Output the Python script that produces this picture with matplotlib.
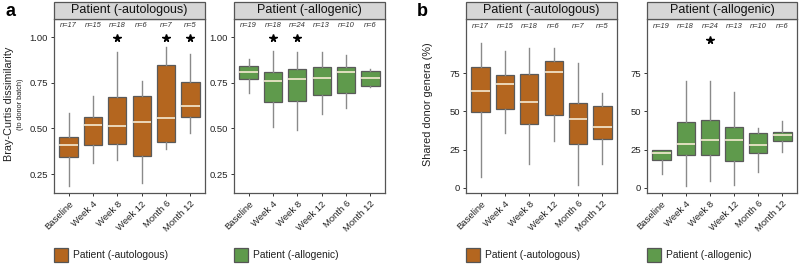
import matplotlib
matplotlib.use("Agg")
import matplotlib.pyplot as plt
from matplotlib.patches import Rectangle

plt.rcParams['font.family'] = ['Liberation Sans', 'DejaVu Sans']

categories = ["Baseline", "Week 4", "Week 8", "Week 12", "Month 6", "Month 12"]
groups = ["Patient (-autologous)", "Patient (-allogenic)"]

# Panel a: Bray-Curtis dissimilarity (to donor batch)
a_auto_whislo = [0.186, 0.309, 0.327, 0.203, 0.387, 0.476]
a_auto_q1     = [0.341, 0.410, 0.414, 0.349, 0.424, 0.560]
a_auto_med    = [0.409, 0.518, 0.513, 0.535, 0.555, 0.624]
a_auto_q3     = [0.454, 0.560, 0.670, 0.679, 0.847, 0.755]
a_auto_whishi = [0.582, 0.677, 0.920, 0.759, 0.947, 0.910]

a_allo_whislo = [0.692, 0.509, 0.491, 0.577, 0.610, 0.725]
a_allo_q1     = [0.770, 0.646, 0.651, 0.686, 0.697, 0.734]
a_allo_med    = [0.810, 0.759, 0.770, 0.777, 0.807, 0.777]
a_allo_q3     = [0.843, 0.808, 0.825, 0.837, 0.837, 0.816]
a_allo_whishi = [0.883, 0.925, 0.920, 0.920, 0.905, 0.825]

# Panel b: Shared donor genera (%)
b_auto_whislo = [7.0, 35.9, 15.3, 30.5, 1.6, 15.7]
b_auto_q1     = [49.4, 51.8, 42.0, 47.9, 28.7, 31.6]
b_auto_med    = [63.1, 67.8, 56.1, 75.5, 45.3, 39.7]
b_auto_q3     = [78.9, 73.5, 74.6, 83.3, 55.4, 53.7]
b_auto_whishi = [94.6, 89.6, 91.3, 91.3, 81.5, 62.0]

b_allo_whislo = [8.7, 1.1, 4.4, 1.6, 10.2, 23.3]
b_allo_q1     = [18.1, 21.1, 21.7, 17.4, 22.8, 30.5]
b_allo_med    = [22.8, 28.3, 30.9, 31.1, 27.8, 34.2]
b_allo_q3     = [24.6, 43.0, 44.6, 39.6, 35.5, 36.3]
b_allo_whishi = [24.6, 69.6, 69.6, 62.6, 39.1, 44.0]

n_auto = [17, 15, 18, 6, 7, 5]
n_allo = [19, 18, 24, 13, 10, 6]

a_auto_star = [False, False, True, False, True, True]
a_allo_star = [False, True, True, False, False, False]
b_auto_star = [False, False, False, False, False, False]
b_allo_star = [False, False, True, False, False, False]

c_auto = "#B4661F"
c_allo = "#5F9A4C"
edge = "#5a5a5a"
whisk = "#8a8a8a"
medc = "#F6EBD2"

W, H = 800, 264
fig = plt.figure(figsize=(8, 2.64), dpi=100)


def fx(px):
    return px / W


def fy(py):
    return 1 - py / H


def make_panel(x0, x1, title, color, lo, q1, med, q3, hi, ns, stars,
               ylim, yticks, yticklabels, ny, sy):
    ax = fig.add_axes([fx(x0), fy(193), fx(x1 - x0), (193 - 19) / H])
    stats = []
    for i in range(len(categories)):
        stats.append(dict(whislo=lo[i], q1=q1[i], med=med[i], q3=q3[i],
                          whishi=hi[i], fliers=[], label=categories[i]))
    pos = list(range(len(categories)))
    ax.bxp(stats, positions=pos, widths=0.75, patch_artist=True,
           showfliers=False, showcaps=False,
           boxprops=dict(facecolor=color, edgecolor=edge, linewidth=0.9),
           medianprops=dict(color=medc, linewidth=1.2),
           whiskerprops=dict(color=whisk, linewidth=1.0))
    ax.set_xlim(-0.6, len(categories) - 0.4)
    ax.set_ylim(*ylim)
    ax.set_yticks(yticks)
    ax.set_yticklabels(yticklabels)
    ax.set_xticks(pos)
    ax.set_xticklabels(categories, rotation=45, ha='right',
                       rotation_mode='anchor')
    ax.tick_params(axis='both', labelsize=6.8, colors='#333333',
                   length=2.5, width=0.7, pad=2, labelcolor='#222222')
    for s in ax.spines.values():
        s.set_color('#555555')
        s.set_linewidth(0.9)
    for i in pos:
        ax.text(i, ny, "n=%d" % ns[i], ha='center', va='center',
                fontsize=5.4, style='italic', color='#333333')
        if stars[i]:
            ax.plot(i, sy, marker='*', color='black', markersize=5.5,
                    linestyle='none')
    # strip
    fig.patches.append(Rectangle((fx(x0), fy(18.5)), fx(x1 - x0), 16.5 / H,
                                 transform=fig.transFigure,
                                 facecolor='#D6D6D6', edgecolor='#555555',
                                 linewidth=0.9))
    fig.text(fx((x0 + x1) / 2), fy(10.5), title, ha='center', va='center',
             fontsize=9.0, color='#111111')
    return ax


make_panel(54, 205, groups[0], c_auto, a_auto_whislo, a_auto_q1, a_auto_med,
           a_auto_q3, a_auto_whishi, n_auto, a_auto_star,
           (0.146, 1.10), [0.25, 0.5, 0.75, 1.0],
           ["0.25", "0.50", "0.75", "1.00"], 1.066, 0.995)
make_panel(234, 385, groups[1], c_allo, a_allo_whislo, a_allo_q1, a_allo_med,
           a_allo_q3, a_allo_whishi, n_allo, a_allo_star,
           (0.146, 1.10), [0.25, 0.5, 0.75, 1.0],
           ["0.25", "0.50", "0.75", "1.00"], 1.066, 0.995)
make_panel(466, 617, groups[0], c_auto, b_auto_whislo, b_auto_q1, b_auto_med,
           b_auto_q3, b_auto_whishi, n_auto, b_auto_star,
           (-3.5, 110.5), [0, 25, 50, 75], ["0", "25", "50", "75"],
           105.5, 97.0)
make_panel(647, 797, groups[1], c_allo, b_allo_whislo, b_allo_q1, b_allo_med,
           b_allo_q3, b_allo_whishi, n_allo, b_allo_star,
           (-3.5, 110.5), [0, 25, 50, 75], ["0", "25", "50", "75"],
           105.5, 97.0)

# panel letters
fig.text(fx(5), fy(12), "a", fontsize=13, fontweight='bold', ha='left',
         va='center')
fig.text(fx(417), fy(12), "b", fontsize=13, fontweight='bold', ha='left',
         va='center')

# y labels
fig.text(fx(9), fy(104), "Bray-Curtis dissimilarity", rotation=90,
         fontsize=7.8, ha='center', va='center', color='#222222')
fig.text(fx(21), fy(104), "(to donor batch)", rotation=90,
         fontsize=5.3, ha='center', va='center', color='#222222')
fig.text(fx(428), fy(104), "Shared donor genera (%)", rotation=90,
         fontsize=7.8, ha='center', va='center', color='#222222')

# legends
def legend_item(x, color, label):
    fig.patches.append(Rectangle((fx(x), fy(262)), fx(14), 14 / H,
                                 transform=fig.transFigure,
                                 facecolor=color, edgecolor='#555555',
                                 linewidth=0.9))
    fig.text(fx(x + 19), fy(255), label, fontsize=7.4, ha='left',
             va='center', color='#222222')

legend_item(54, c_auto, groups[0])
legend_item(234, c_allo, groups[1])
legend_item(466, c_auto, groups[0])
legend_item(647, c_allo, groups[1])

fig.savefig("out.png", dpi=100)
